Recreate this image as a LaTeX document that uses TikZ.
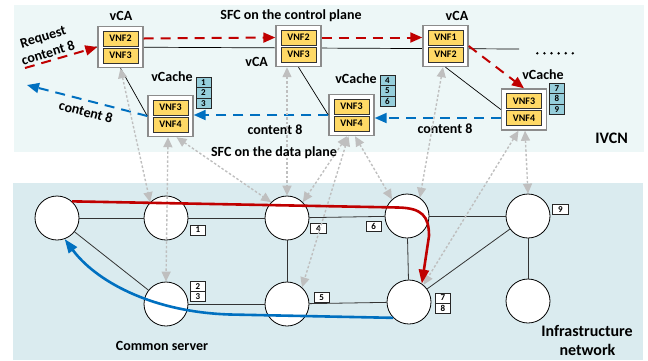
\documentclass[tikz,border=0pt]{standalone}
\usepackage{fontspec}
\setmainfont{Carlito}
\usetikzlibrary{arrows.meta}

\definecolor{ctrlbg}{HTML}{EDF7F7}
\definecolor{infbg}{HTML}{DAEBEF}
\definecolor{vnffill}{HTML}{FFD966}
\definecolor{boxgray}{HTML}{8C8C8C}
\definecolor{idfill}{HTML}{96CEDB}
\definecolor{reqred}{HTML}{C00000}
\definecolor{dataBlue}{HTML}{0070C0}
\definecolor{linkgray}{HTML}{BFBFBF}

\tikzset{
  lbl/.style={font=\fontsize{14}{17}\selectfont\bfseries, anchor=base, inner sep=0pt},
  biglbl/.style={font=\fontsize{16}{19}\selectfont\bfseries, anchor=base, inner sep=0pt},
  vmbox/.style={draw=boxgray, line width=1.4pt, fill=white, minimum width=45pt,
    minimum height=41pt, inner sep=0pt},
  vnfcell/.style={draw=black!80, line width=0.7pt, fill=vnffill, minimum width=35pt,
    minimum height=15pt, inner sep=0pt, font=\fontsize{10}{12}\selectfont\bfseries},
  idcell/.style={draw=black!85, line width=0.7pt, fill=idfill, minimum width=15pt,
    minimum height=10.6pt, inner sep=0pt, font=\fontsize{9}{10}\selectfont\bfseries},
  numtag/.style={draw=black!85, line width=0.7pt, fill=white, minimum width=15.5pt,
    minimum height=10pt, inner sep=0pt, font=\fontsize{9}{10}\selectfont\bfseries},
  srv/.style={circle, draw, line width=0.8pt, fill=white, minimum size=44pt, inner sep=0pt},
  netlink/.style={draw=black!80, line width=0.8pt},
  vmlink/.style={draw=black, line width=0.7pt},
  ctrlreq/.style={reqred, line width=2pt, dash pattern=on 10pt off 7pt,
    -{Triangle[length=12pt,width=10pt]}},
  datareq/.style={dataBlue, line width=2pt, dash pattern=on 10pt off 7pt,
    -{Triangle[length=12pt,width=10pt]}},
  mapping/.style={linkgray, line width=1.4pt, dash pattern=on 2.5pt off 2pt,
    {Triangle[length=10pt,width=9pt]}-{Triangle[length=10pt,width=9pt]}},
  route/.style={line width=2.6pt, -{Triangle[length=14pt,width=10pt]}},
}

\begin{document}
\begin{tikzpicture}[x=1pt,y=-1pt]
\useasboundingbox (0,0) rectangle (648,360);

% planes
\fill[ctrlbg] (14,5) rectangle (644,152);
\fill[infbg] (13,183) rectangle (643,360);

% ---------- virtual layer ----------
\coordinate (ctail) at (519,49);
\coordinate (rq) at (25,68);
\coordinate (cbk) at (27,85);

% control-plane chain of vCA instances
\draw[vmlink] (95,47) -- (ctail);

\node[vmbox] (vCA1) at (120.5,47) {};
\node[vnfcell] (vCA1a) at (120.5,38.5) {VNF2};
\node[vnfcell] (vCA1b) at (120.5,55.5) {VNF3};

\node[vmbox] (vCA2) at (298.5,46) {};
\node[vnfcell] (vCA2a) at (298.5,37.5) {VNF2};
\node[vnfcell] (vCA2b) at (298.5,54.5) {VNF3};

\node[vmbox] (vCA3) at (445.5,46) {};
\node[vnfcell] (vCA3a) at (445.5,37.5) {VNF1};
\node[vnfcell] (vCA3b) at (445.5,54.5) {VNF2};

% vCache instances
\node[vmbox] (vCache1) at (170.5,116) {};
\node[vnfcell] (vCache1a) at (170.5,107.5) {VNF3};
\node[vnfcell] (vCache1b) at (170.5,124.5) {VNF4};

\node[vmbox] (vCache2) at (351.5,115) {};
\node[vnfcell] (vCache2a) at (351.5,106.5) {VNF3};
\node[vnfcell] (vCache2b) at (351.5,123.5) {VNF4};

\node[vmbox] (vCache3) at (524,109.5) {};
\node[vnfcell] (vCache3a) at (524,101) {VNF3};
\node[vnfcell] (vCache3b) at (524,118) {VNF4};

% vCA to vCache links
\draw[vmlink] (vCA1.south) -- (vCache1.west);
\draw[vmlink] (vCA2.south) -- (vCache2.west);
\draw[vmlink] (vCA3.south) -- (vCache3.west);

% ellipsis
\foreach \i in {0,...,5} \fill (537.3+7.1*\i,53.3) circle (1.35pt);

% content ids held by each cache
\node[idcell] (id1) at (203.5,82.3) {1};
\node[idcell] (id2) at (203.5,92.9) {2};
\node[idcell] (id3) at (203.5,103.5) {3};
\node[idcell] (id4) at (387.5,80.2) {4};
\node[idcell] (id5) at (387.5,90.8) {5};
\node[idcell] (id6) at (387.5,101.4) {6};
\node[idcell] (id7) at (557,88.3) {7};
\node[idcell] (id8) at (557,98.9) {8};
\node[idcell] (id9) at (557,109.5) {9};

% request along the control plane
\draw[ctrlreq] (rq) -- (vCA1.west);
\draw[ctrlreq] (vCA1a.east -| vCA1.east) -- (vCA2a.west -| vCA2.west);
\draw[ctrlreq] (vCA2a.east -| vCA2.east) -- (vCA3a.west -| vCA3.west);
\draw[ctrlreq] (vCA3.east) -- (vCache3.north);

% content delivery along the data plane
\draw[datareq] (vCache3b.west -| vCache3.west) -- (vCache3b.west -| vCache2.east);
\draw[datareq] (vCache2.west) -- (vCache2.west -| vCache1.east);
\draw[datareq] (vCache1.west) -- (cbk);

% labels of the virtual layer
\node[lbl] (tvca1) at (121,20.5) {vCA};
\node[lbl] (tsfcc) at (291,19.5) {SFC on the control plane};
\node[lbl] (tvca3) at (457,20) {vCA};
\node[lbl] (tvca2) at (256.7,66.7) {vCA};
\node[lbl] (tvc1) at (172,81.7) {vCache};
\node[lbl] (tvc2) at (356,83.3) {vCache};
\node[lbl] (tvc3) at (543,79.3) {vCache};
\node[lbl] (tc2) at (275,134) {content 8};
\node[lbl] (tc3) at (445,133.3) {content 8};
\node[lbl, anchor=center, rotate=17, align=center] (treq) at (45.5,45) {Request\\content 8};
\node[lbl, anchor=center, rotate=-15] (tc1) at (86,112) {content 8};
\node[biglbl] (tivcn) at (611.7,143.3) {IVCN};

% ---------- infrastructure network ----------
\node[srv] (n1) at (57,218) {};
\node[srv] (n2) at (166,218) {};
\node[srv] (n3) at (166,304) {};
\node[srv] (n4) at (287,218) {};
\node[srv] (n5) at (287,304) {};
\node[srv] (n6) at (407,216) {};
\node[srv] (n7) at (409,302) {};
\node[srv] (n8) at (528,216) {};
\node[srv] (n9) at (528,301) {};

\draw[netlink] (n1) -- (n2);
\draw[netlink] (n1) -- (n3);
\draw[netlink] (n2) -- (n4);
\draw[netlink] (n3) -- (n5);
\draw[netlink] (n4) -- (n5);
\draw[netlink] (n4) -- (n6);
\draw[netlink] (n5) -- (n7);
\draw[netlink] (n6) -- (n7);
\draw[netlink] (n6) -- (n8);
\draw[netlink] (n7) -- (n8);
\draw[netlink] (n8) -- (n9);

% content tags on the servers
\node[numtag] (g1) at (198,230) {1};
\node[numtag] (g2) at (198,286.7) {2};
\node[numtag] (g3) at (198,296.7) {3};
\node[numtag] (g4) at (318.3,228.3) {4};
\node[numtag] (g5) at (321.7,297.2) {5};
\node[numtag] (g6) at (373.7,226.7) {6};
\node[numtag] (g7) at (443,298) {7};
\node[numtag] (g8) at (443,308) {8};
\node[numtag] (g9) at (560.3,209.7) {9};

% mapping of virtual functions onto servers
\draw[mapping] (vCA1.south) -- (n2.135);
\draw[mapping] ([xshift=-2.5pt]vCache1.south) -- (n3.north);
\draw[mapping] ([xshift=6pt]vCache1.south) -- (n4.135);
\draw[mapping] (vCA2.south -| n4.north) -- (n4.north);
\draw[mapping] ([xshift=-4.5pt]vCache2.south) -- (n4.45);
\draw[mapping] ([xshift=-3pt]vCache2.south) -- (n5.48);
\draw[mapping] ([xshift=3.5pt]vCache2.south) -- (n6.132);
\draw[mapping] ([xshift=-2.5pt]vCA3.south) -- (n6.55);
\draw[mapping] ([xshift=-5.5pt]vCache3.south) -- (n7.50);
\draw[mapping] ([xshift=1pt]vCache3.south) -- (n8.north);

% physical routes of request and content
\draw[route, reqred] (n1.48) -- (398,207.5)
  .. controls (422,208) and (429,216) .. (429,236) -- (n7.55);
\draw[route, dataBlue] (n7.225) -- (230,314.5)
  .. controls (150,312) and (95,280) .. (n1.-70);

\node[lbl] (tsfcd) at (274,156) {SFC on the data plane};
\node[lbl] (tcs) at (162,350) {Common server};
\node[biglbl] (tinf1) at (587,336) {Infrastructure};
\node[biglbl] (tinf2) at (587.5,355) {network};
\end{tikzpicture}
\end{document}
